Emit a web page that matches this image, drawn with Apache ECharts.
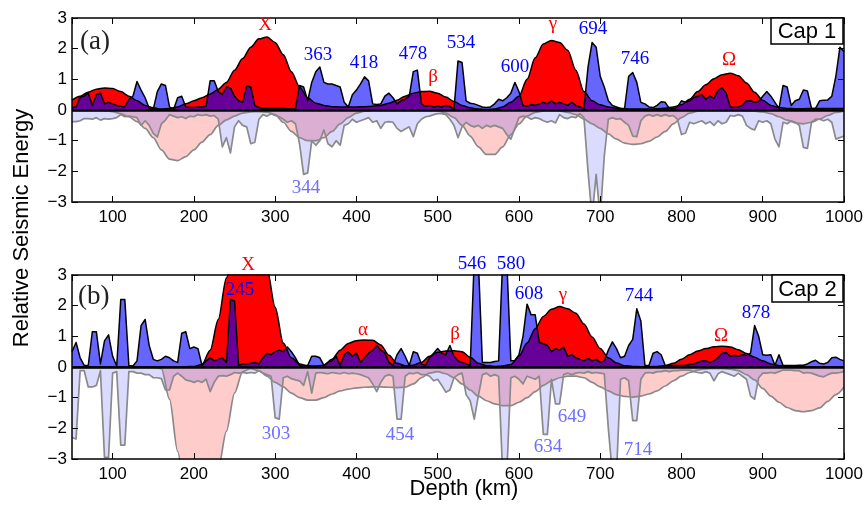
<!DOCTYPE html>
<html><head><meta charset="utf-8">
<script src="https://cdn.jsdelivr.net/npm/echarts@6/dist/echarts.min.js"></script>
<style>html,body{margin:0;padding:0;background:#fff}#c{width:868px;height:510px}</style>
</head><body><div id="c"></div>
<script>
// ---- depth sampling (km) ----
const depthStart = 50, depthEnd = 1000;
const xTickLabels = ['100','200','300','400','500','600','700','800','900','1000'];
const yTickLabels = ['−3','−2','−1','0','1','2','3'];

// Cap 1 : smooth (red) energy, 10 km samples
const cap1Smooth = [
 0.32,0.45,0.58,0.68,0.72,0.70,0.60,0.45,0.30,0.15,
 0.07,0.03,0.05,0.10,0.20,0.30,0.40,0.52,0.68,0.90,
 1.30,1.68,2.05,2.32,2.38,2.20,1.80,1.25,0.75,0.40,
 0.22,0.15,0.11,0.10,0.10,0.10,0.11,0.12,0.15,0.22,
 0.32,0.45,0.55,0.60,0.61,0.55,0.42,0.28,0.15,0.07,
 0.03,0.02,0.03,0.10,0.25,0.45,1.00,1.70,2.15,2.27,
 2.20,1.95,1.30,0.60,0.30,0.17,0.10,0.06,0.04,0.03,
 0.03,0.03,0.04,0.06,0.10,0.17,0.35,0.60,0.82,1.02,
 1.15,1.20,1.12,0.88,0.58,0.32,0.15,0.08,0.05,0.04,
 0.04,0.05,0.05,0.05,0.05,0.05];
// Cap 1 : sharp (blue) energy, 5 km samples
const cap1Sharp = [
 0.08,0.10,0.42,0.45,0.55,0.15,0.50,0.55,0.20,0.25,
 0.20,0.15,0.12,0.10,0.35,0.45,0.93,0.65,0.40,0.05,
 0.02,0.60,0.85,0.80,0.10,0.02,0.40,0.45,0.10,0.08,
 0.08,0.10,0.10,0.12,0.95,0.95,0.60,0.50,0.75,0.72,
 0.45,0.30,0.25,0.78,0.75,0.15,0.08,0.05,0.05,0.05,
 0.05,0.05,0.05,0.04,0.03,0.05,0.80,0.75,0.30,0.90,
 1.25,1.40,0.90,0.85,0.85,0.80,0.75,0.25,0.10,0.50,
 0.65,0.85,1.08,0.95,0.20,0.18,0.20,0.45,0.55,0.40,
 0.20,0.30,0.35,0.45,1.25,1.30,0.20,0.12,0.15,0.10,
 0.12,0.10,0.15,0.12,0.02,1.60,1.55,0.30,0.22,0.20,
 0.15,0.10,0.08,0.10,0.20,0.35,0.30,0.40,0.55,0.90,
 0.60,0.15,0.12,0.18,0.15,0.20,0.25,0.20,0.30,0.20,
 0.25,0.20,0.15,0.25,0.15,0.10,0.05,1.40,2.20,2.05,
 1.10,0.75,0.30,0.15,0.10,0.05,0.05,1.10,1.22,0.90,
 0.25,0.20,0.10,0.08,0.15,0.27,0.25,0.05,0.03,0.10,
 0.30,0.25,0.30,0.40,0.45,0.50,0.35,0.45,0.38,0.65,
 0.72,0.55,0.10,0.08,0.10,0.15,0.30,0.30,0.25,0.28,
 0.45,0.60,0.45,0.25,0.05,0.80,0.75,0.15,0.30,0.35,
 0.65,0.62,0.05,0.05,0.30,0.32,0.33,0.45,1.10,2.05,
 1.90];
// Cap 1 : mirrored (pale) smooth energy, 10 km samples
const cap1SmoothLow = [
 -0.02,-0.02,-0.02,-0.02,-0.03,-0.05,-0.12,-0.22,-0.38,-0.60,
 -0.90,-1.30,-1.60,-1.65,-1.52,-1.30,-1.05,-0.80,-0.50,-0.32,
 -0.20,-0.10,-0.06,-0.05,-0.07,-0.15,-0.40,-0.70,-0.90,-1.00,
 -1.00,-0.90,-0.70,-0.45,-0.25,-0.10,-0.04,-0.02,-0.02,-0.02,
 -0.02,-0.02,-0.02,-0.02,-0.02,-0.03,-0.10,-0.25,-0.50,-0.85,
 -1.20,-1.45,-1.45,-1.20,-0.80,-0.45,-0.20,-0.08,-0.03,-0.02,
 -0.03,-0.08,-0.15,-0.30,-0.45,-0.60,-0.78,-0.95,-1.08,-1.12,
 -1.10,-1.02,-0.88,-0.70,-0.45,-0.25,-0.10,-0.04,-0.02,-0.02,
 -0.02,-0.02,-0.02,-0.03,-0.04,-0.06,-0.12,-0.22,-0.33,-0.42,
 -0.45,-0.40,-0.30,-0.18,-0.08,-0.03];
// Cap 1 : mirrored (pale) sharp energy, 5 km samples
const cap1SharpLow = [
 -0.38,-0.38,-0.35,-0.28,-0.28,-0.30,-0.25,-0.33,-0.28,-0.30,
 -0.28,-0.25,-0.15,-0.22,-0.20,-0.22,-0.25,-0.50,-0.35,-0.50,
 -0.76,-0.88,-0.45,-0.33,-0.15,-0.20,-0.25,-0.22,-0.28,-0.20,
 -0.22,-0.15,-0.18,-0.15,-0.20,-0.18,-0.30,-1.20,-0.90,-1.40,
 -0.55,-0.35,-0.50,-0.55,-1.10,-1.05,-0.30,-0.15,-0.20,-0.12,
 -0.18,-0.22,-0.30,-0.40,-0.35,-0.45,-1.10,-2.10,-2.05,-1.00,
 -1.15,-1.00,-0.65,-1.10,-1.20,-1.00,-1.15,-0.50,-0.45,-0.30,
 -0.40,-0.35,-0.30,-0.25,-0.40,-0.35,-0.60,-0.40,-0.38,-0.40,
 -0.60,-0.70,-0.62,-0.55,-0.87,-0.45,-0.30,-0.22,-0.20,-0.15,
 -0.12,-0.12,-0.15,-0.30,-0.50,-0.90,-0.55,-0.40,-0.50,-0.55,
 -0.50,-0.60,-0.50,-0.55,-0.50,-0.55,-0.60,-0.80,-0.95,-0.60,
 -0.25,-0.20,-0.22,-0.30,-0.25,-0.28,-0.35,-0.40,-0.35,-0.42,
 -0.15,-0.25,-0.28,-0.22,-0.25,-0.12,-0.25,-2.00,-3.50,-2.10,
 -3.50,-1.50,-0.30,-0.25,-0.30,-0.28,-0.40,-0.50,-0.85,-0.87,
 -0.35,-0.20,-0.15,-0.20,-0.15,-0.20,-0.15,-0.20,-0.18,-0.30,
 -0.80,-0.75,-0.40,-0.45,-0.40,-0.35,-0.45,-0.38,-0.50,-0.35,
 -0.45,-0.40,-0.18,-0.20,-0.15,-0.20,-0.50,-0.60,-0.65,-0.35,
 -0.40,-0.35,-0.45,-0.95,-1.20,-0.40,-0.45,-0.35,-0.40,-0.50,
 -1.22,-1.25,-0.40,-0.30,-0.30,-0.35,-0.30,-0.40,-0.95,-0.90,
 -0.85];

// Cap 2 : smooth (red) energy, 10 km samples
const cap2Smooth = [
 0,0,0,0,0,0,0,0,0,0,
 0,0,0,0,0.01,0.02,0.08,0.55,1.55,2.90,
 4.00,4.60,4.60,4.10,3.20,1.95,0.78,0.30,0.10,0.04,
 0.03,0.06,0.25,0.55,0.77,0.86,0.88,0.87,0.72,0.38,
 0.12,0.04,0.06,0.15,0.35,0.48,0.52,0.53,0.50,0.32,
 0.12,0.04,0.02,0.03,0.08,0.35,0.78,1.25,1.65,1.88,
 1.97,1.90,1.75,1.40,0.98,0.60,0.30,0.13,0.04,0.02,
 0.01,0.01,0.02,0.04,0.12,0.25,0.40,0.52,0.60,0.66,
 0.68,0.65,0.56,0.44,0.32,0.20,0.10,0.05,0.02,0.01,
 0,0,0,0,0,0];
// Cap 2 : sharp (blue) energy, 5 km samples
const cap2Sharp = [
 0.50,0.80,0.30,0.05,0.05,1.15,1.15,0.10,0.85,1.05,
 0.35,0.03,2.20,2.20,0.05,0.03,0.20,1.35,1.55,0.70,
 0.25,0.20,0.25,0.35,0.30,0.20,0.15,1.10,1.15,0.60,
 0.65,0.60,0.05,0.20,0.30,0.20,0.25,0.30,0.15,2.20,
 2.15,0.05,0.10,0.10,0.12,0.15,0.10,0.30,0.45,0.40,
 0.50,0.55,0.50,0.65,0.50,0.30,0.05,0.05,0.05,0.35,
 0.35,0.30,0.05,0.15,0.20,0.35,0.05,0.40,0.50,0.35,
 0.45,0.15,0.30,0.45,0.55,0.70,0.55,0.45,0.15,0.05,
 0.40,0.60,0.35,0.05,0.50,0.45,0.10,0.05,0.30,0.45,
 0.60,0.45,0.40,0.70,0.35,0.20,0.15,0.10,0.05,3.50,
 3.50,0.15,0.15,0.15,0.18,0.20,3.50,3.50,0.20,0.20,
 0.40,1.00,2.05,1.70,1.70,0.80,0.76,0.70,0.50,0.60,
 0.55,0.65,0.35,0.40,0.30,0.25,0.20,0.28,0.20,0.25,
 0.15,0.20,0.55,0.82,0.60,0.30,0.35,0.70,0.90,1.90,
 1.50,0.06,0.05,0.45,0.50,0.40,0.05,0.05,0.05,0.05,
 0.05,0.06,0.08,0.10,0.15,0.20,0.20,0.15,0.20,0.30,
 0.45,0.47,0.35,0.38,0.35,0.40,0.38,0.45,1.35,1.00,
 0.40,0.38,0.40,0.06,0.40,0.05,0.05,0.05,0.05,0.06,
 0.06,0.10,0.17,0.22,0.12,0.10,0.15,0.30,0.32,0.25,
 0.20];
// Cap 2 : mirrored (pale) smooth energy, 10 km samples
const cap2SmoothLow = [
 -0.02,-0.02,-0.02,-0.02,-0.02,-0.02,-0.02,-0.02,-0.02,-0.02,
 -0.02,-0.05,-1.05,-2.75,-4.30,-4.80,-4.80,-4.50,-3.30,-2.10,
 -0.85,-0.15,-0.05,-0.12,-0.30,-0.50,-0.65,-0.85,-1.00,-1.08,
 -1.08,-1.00,-0.88,-0.78,-0.72,-0.68,-0.66,-0.65,-0.65,-0.66,
 -0.67,-0.66,-0.55,-0.35,-0.20,-0.15,-0.22,-0.35,-0.55,-0.75,
 -0.95,-1.10,-1.20,-1.26,-1.26,-1.15,-1.00,-0.80,-0.60,-0.45,
 -0.35,-0.30,-0.30,-0.35,-0.50,-0.65,-0.78,-0.90,-0.96,-0.98,
 -0.95,-0.88,-0.78,-0.62,-0.45,-0.30,-0.18,-0.10,-0.06,-0.05,
 -0.05,-0.07,-0.12,-0.25,-0.42,-0.70,-0.95,-1.15,-1.32,-1.42,
 -1.46,-1.42,-1.33,-1.12,-0.90,-0.65];
// Cap 2 : mirrored (pale) sharp energy, 5 km samples
const cap2SharpLow = [
 -2.30,-2.35,-0.12,-0.12,-0.65,-0.65,-0.60,-0.12,-2.95,-2.95,
 -0.20,-0.15,-2.55,-2.55,-0.15,-0.15,-0.20,-0.20,-0.25,-0.25,
 -0.35,-0.35,-0.38,-0.75,-0.75,-0.30,-0.20,-0.30,-0.42,-0.45,
 -0.50,-0.45,-0.50,-0.40,-0.80,-0.50,-0.30,-0.28,-0.30,-0.25,
 -0.18,-0.20,-0.18,-0.20,-0.18,-0.20,-0.12,-0.20,-0.25,-0.30,
 -1.65,-1.70,-0.35,-0.30,-0.38,-0.42,-0.45,-0.60,-0.15,-0.85,
 -0.20,-0.18,-0.20,-0.22,-0.18,-0.20,-0.22,-0.18,-0.22,-0.20,
 -0.22,-0.25,-0.30,-0.35,-0.55,-0.80,-0.50,-0.30,-0.25,-0.30,
 -1.70,-1.70,-0.30,-0.20,-0.22,-0.18,-0.25,-0.25,-0.30,-0.45,
 -0.40,-0.60,-0.82,-0.75,-0.35,-0.25,-0.20,-0.90,-1.10,-1.70,
 -0.95,-0.25,-0.20,-0.30,-0.25,-0.30,-3.50,-3.50,-0.35,-0.30,
 -0.40,-0.55,-0.30,-0.35,-0.40,-0.30,-2.20,-2.20,-0.40,-1.20,
 -1.20,-0.25,-0.20,-0.25,-0.20,-0.18,-0.20,-0.15,-0.20,-0.18,
 -0.20,-0.22,-2.00,-3.50,-3.50,-0.40,-0.35,-0.45,-1.75,-1.75,
 -0.40,-0.20,-0.18,-0.20,-0.15,-0.15,-0.12,-0.15,-0.12,-0.12,
 -0.10,-0.10,-0.10,-0.15,-0.18,-0.20,-0.15,-0.20,-0.45,-0.22,
 -0.15,-0.20,-0.25,-0.30,-0.20,-0.30,-0.40,-0.95,-1.05,-0.35,
 -0.20,-0.20,-0.18,-0.20,-0.15,-0.10,-0.10,-0.10,-0.12,-0.12,
 -0.20,-0.18,-0.20,-0.25,-0.30,-0.32,-0.25,-0.20,-0.20,-0.18,
 -0.15];

// annotation texts
const cap1PeakTexts = ['X','363','418','478','β','534','600','γ','694','746','Ω','344'];
const cap2PeakTexts = ['X','245','α','303','454','β','546','580','608','γ','744','Ω','878','649','634','714'];
const panelTitles = ['Cap 1','Cap 2'];
const panelLetters = ['(a)','(b)'];
</script>
<script>
function samples(step){const a=[];for(let d=depthStart; d<=depthEnd+1e-9; d+=step)a.push(d);return a;}
const d5 = samples(5), d10 = samples(10);
function pairs(xs, ys){ if(xs.length!==ys.length) console.error('len', xs.length, ys.length); return ys.map((v,i)=>[xs[i],v]); }

const RED='#ff0000', BLUEA='rgba(0,0,255,0.6)', PALERED='rgba(255,0,0,0.2)', PALEBLUE='rgba(0,0,255,0.14)';
const GRAY='#8a8a8a';
function area(grid, data, fill, line, lw, mode){
  const s = {type:'line', xAxisIndex:grid*2, yAxisIndex:grid*2, data, showSymbol:false, symbol:'none',
    lineStyle:{color:line,width:lw, join:'round'}, areaStyle:{color:fill, opacity:1}, silent:true, animation:false, clip:true};
  if(mode==='smooth'){ s.smooth=0.3; s.smoothMonotone='x'; }
  return s;
}
const zeroLine = {silent:true, symbol:'none', animation:false, label:{show:false},
  lineStyle:{color:'#000', width:2.5, type:'solid'}, data:[{yAxis:0}]};

const series = [];
[[cap1Smooth,cap1Sharp,cap1SmoothLow,cap1SharpLow],[cap2Smooth,cap2Sharp,cap2SmoothLow,cap2SharpLow]].forEach((p,g)=>{
  series.push(area(g, pairs(d10,p[2]), PALERED, GRAY, 1.7, 'smooth'));
  series.push(area(g, pairs(d5,p[3]), PALEBLUE, GRAY, 1.7, 'line'));
  series.push(area(g, pairs(d10,p[0]), RED, '#000', 1.5, 'smooth'));
  const b = area(g, pairs(d5,p[1]), BLUEA, '#000', 1.5, 'line');
  b.markLine = zeroLine;
  series.push(b);
});

const grids = [{left:72, width:772, top:18, height:184},{left:72, width:772, top:275, height:184}];
const axisFont = {color:'#000', fontSize:17, fontFamily:'Liberation Sans'};
const xAxes=[], yAxes=[];
[0,1].forEach(g=>{
  ['bottom','top'].forEach(pos=>{
    xAxes.push({type:'value', gridIndex:g, position:pos, min:depthStart, max:depthEnd, splitNumber:10, z:10,
      axisLine:{show:true, onZero:false, lineStyle:{color:'#000', width:1.5}},
      axisTick:{show:true, inside:true, length:6, lineStyle:{color:'#000', width:1}},
      splitLine:{show:false},
      axisLabel: pos==='bottom' ? Object.assign({show:true, showMinLabel:false, margin:7,
        formatter:v=>{const i=xTickLabels.indexOf(String(Math.round(v)));return i>=0?xTickLabels[i]:'';}}, axisFont) : {show:false}});
  });
  ['left','right'].forEach(pos=>{
    yAxes.push({type:'value', gridIndex:g, position:pos, min:-3, max:3, interval:1, z:10,
      axisLine:{show:true, onZero:false, lineStyle:{color:'#000', width:1.5}},
      axisTick:{show:true, inside:true, length:6, lineStyle:{color:'#000', width:1}},
      splitLine:{show:false},
      axisLabel: pos==='left' ? Object.assign({show:true, margin:5, formatter:v=>yTickLabels[Math.round(v)+3]}, axisFont) : {show:false}});
  });
});

// annotation layout (pixel centres) and styles
const serif='Liberation Serif';
const cap1Pos = [[265,25,'r'],[318,55,'b'],[364,63,'b'],[413,54,'b'],[433,77,'r'],[461,43,'b'],[515,67,'b'],[553,24,'r'],[593,29,'b'],[635,59,'b'],[729,60,'r'],[306,188,'p']];
const cap2Pos = [[248,265,'r'],[240,290,'b'],[363,330,'r'],[276,434,'p'],[400,435,'p'],[455,334,'r'],[472,264,'b'],[511,264,'b'],[529,294,'b'],[563,295,'r'],[639,296,'b'],[721,336,'r'],[756,313,'b'],[572,417,'p'],[548,447,'p'],[638,450,'p']];
const colMap = {r:'#ff0000', b:'#0000ff', p:'#6e6eff'};
const graphics = [];
function addText(t, pos){ graphics.push({type:'text', x:pos[0], y:pos[1], z:100, silent:true,
  style:{text:t, fill:colMap[pos[2]], fontSize:19, fontFamily:serif, align:'center', verticalAlign:'middle'}}); }
cap1PeakTexts.forEach((t,i)=>addText(t, cap1Pos[i]));
cap2PeakTexts.forEach((t,i)=>addText(t, cap2Pos[i]));
// panel letters
[[80,42],[78,297]].forEach((p,i)=>graphics.push({type:'text', x:p[0], y:p[1], z:100, silent:true,
  style:{text:panelLetters[i], fill:'#222', fontSize:27, fontFamily:serif, align:'left', verticalAlign:'middle'}}));
// cap boxes
[[771,18,72,26],[772,275,71,27]].forEach((r,i)=>{
  graphics.push({type:'rect', shape:{x:r[0], y:r[1], width:r[2], height:r[3]}, z:100, silent:true,
    style:{fill:'#fff', stroke:'#000', lineWidth:1.5}});
  graphics.push({type:'text', x:r[0]+r[2]/2, y:r[1]+r[3]/2+1, z:101, silent:true,
    style:{text:panelTitles[i], fill:'#000', fontSize:22, fontFamily:'Liberation Sans', align:'center', verticalAlign:'middle'}});
});
// axis titles
graphics.push({type:'text', x:22, y:228, rotation:Math.PI/2, z:100, silent:true,
  style:{text:'Relative Seismic Energy', fill:'#000', fontSize:22, fontFamily:'Liberation Sans', align:'center', verticalAlign:'middle'}});
graphics.push({type:'text', x:464, y:489, z:100, silent:true,
  style:{text:'Depth (km)', fill:'#000', fontSize:22, fontFamily:'Liberation Sans', align:'center', verticalAlign:'middle'}});

const chart = echarts.init(document.getElementById('c'), null, {renderer:'canvas'});
chart.setOption({animation:false, backgroundColor:'#fff', grid:grids, xAxis:xAxes, yAxis:yAxes, series, graphic:graphics});
</script>
</body></html>
